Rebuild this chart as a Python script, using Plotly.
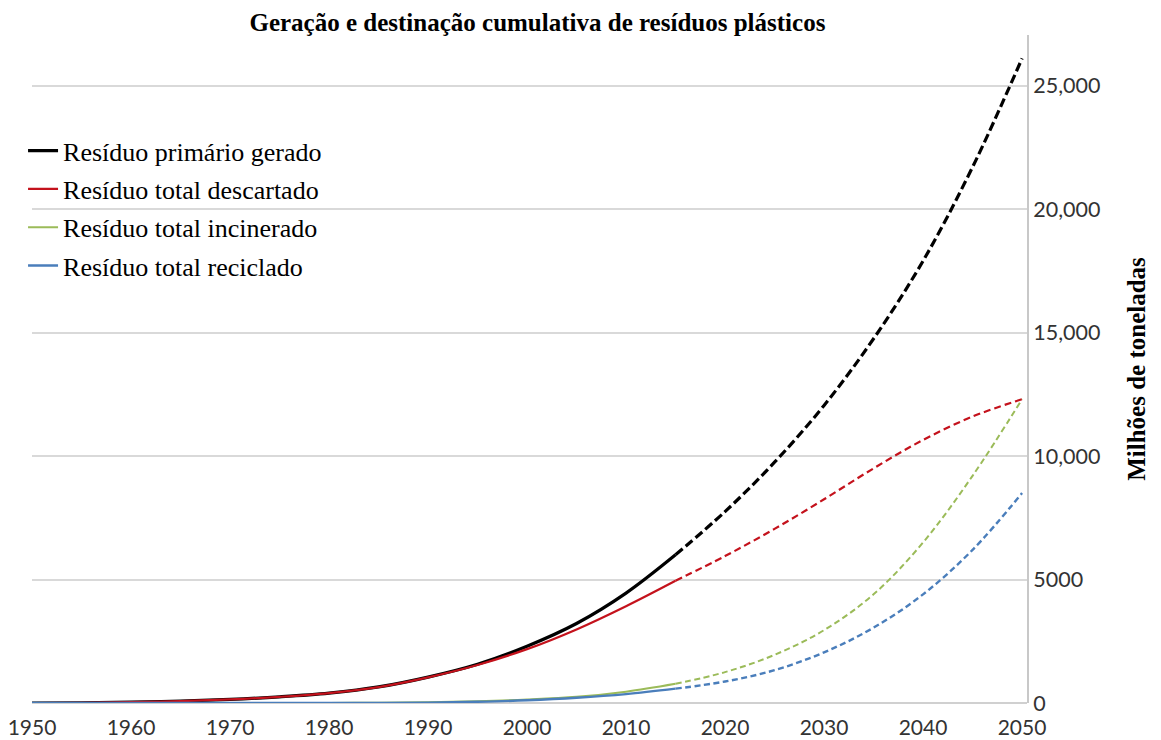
import plotly.graph_objects as go

# ---- data (millions of tonnes, cumulative) ----
years_hist = [1950, 1955, 1960, 1965, 1970, 1975, 1980, 1985, 1990, 1995, 2000, 2005, 2010, 2015]
years_proj = [2015, 2020, 2025, 2030, 2035, 2040, 2045, 2050]

generated_hist = [0, 10, 35, 75, 145, 250, 400, 650, 1050, 1570, 2300, 3220, 4450, 6000]
generated_proj = [6000, 7750, 9750, 12050, 14750, 17900, 21700, 26100]

discarded_hist = [0, 10, 35, 75, 145, 250, 400, 645, 1040, 1540, 2180, 2980, 3920, 4950]
discarded_proj = [4950, 5950, 7050, 8250, 9500, 10650, 11600, 12300]

incinerated_hist = [0, 0, 0, 0, 0, 1, 3, 10, 30, 70, 140, 250, 460, 780]
incinerated_proj = [780, 1250, 1950, 2950, 4400, 6500, 9200, 12300]

recycled_hist = [0, 0, 0, 0, 0, 1, 2, 5, 15, 50, 110, 210, 360, 580]
recycled_proj = [580, 870, 1330, 2050, 3050, 4400, 6200, 8500]

series_names = ["Resíduo primário gerado", "Resíduo total descartado",
                "Resíduo total incinerado", "Resíduo total reciclado"]
colors = ["#000000", "#C4121C", "#9BBB59", "#4A7EBB"]
widths = [3.2, 2.2, 2.0, 2.4]
dashes = ["9px,4px", "7px,4px", "6px,3.5px", "6px,3.5px"]

x_ticks = [1950, 1960, 1970, 1980, 1990, 2000, 2010, 2020, 2030, 2040, 2050]
y_ticks = [0, 5000, 10000, 15000, 20000, 25000]
y_tick_text = ["0", "5000", "10,000", "15,000", "20,000", "25,000"]

hist = [generated_hist, discarded_hist, incinerated_hist, recycled_hist]
proj = [generated_proj, discarded_proj, incinerated_proj, recycled_proj]

fig = go.Figure()
for i in range(4):
    fig.add_trace(go.Scatter(
        x=years_hist, y=hist[i], mode="lines", name=series_names[i],
        legendgroup=f"g{i}", legendrank=i + 1,
        line=dict(color=colors[i], width=widths[i], shape="spline", smoothing=1.0),
    ))
    fig.add_trace(go.Scatter(
        x=years_proj, y=proj[i], mode="lines", name=series_names[i],
        legendgroup=f"g{i}", showlegend=False,
        line=dict(color=colors[i], width=widths[i], dash=dashes[i], shape="spline", smoothing=1.0),
    ))

fig.update_layout(
    width=1161, height=740,
    margin=dict(l=24, r=142, t=27, b=45, autoexpand=False),
    paper_bgcolor="white", plot_bgcolor="white",
    title=dict(
        text="<b>Geração e destinação cumulativa de resíduos plásticos</b>",
        font=dict(family="Liberation Serif", size=25, color="#000000"),
        x=0.456, xref="container", xanchor="center",
        y=0.981, yref="container", yanchor="middle",
    ),
    legend=dict(
        x=-0.009, y=0.862, xanchor="left", yanchor="top",
        font=dict(family="Liberation Serif", size=26, color="#000000"),
        bgcolor="rgba(255,255,255,0)", itemwidth=30, tracegroupgap=1.5,
        traceorder="grouped",
    ),
    showlegend=True,
)

fig.update_xaxes(
    range=[1950, 2050.5], tickvals=x_ticks, automargin=False,
    ticks="outside", ticklen=6, tickcolor="rgba(0,0,0,0)",
    ticklabeloverflow="allow",
    showgrid=False, zeroline=False, showline=False,
    tickfont=dict(family="Lato", size=21, color="#333333"),
    fixedrange=True,
)
fig.update_yaxes(
    range=[0, 27050], side="right", tickvals=y_ticks, ticktext=y_tick_text,
    automargin=False, ticklabeloverflow="allow",
    showgrid=True, gridcolor="#D9D9D9", gridwidth=2,
    zeroline=True, zerolinecolor="#D0D0D0", zerolinewidth=2,
    showline=True, linecolor="#C8C8C8", linewidth=2, mirror=False,
    ticks="", tickfont=dict(family="Lato", size=21.5, color="#333333"),
    title=dict(text="<b>Milhões de toneladas</b>",
               font=dict(family="Liberation Serif", size=25, color="#000000"),
               standoff=28),
)

fig.write_html("out.html")
